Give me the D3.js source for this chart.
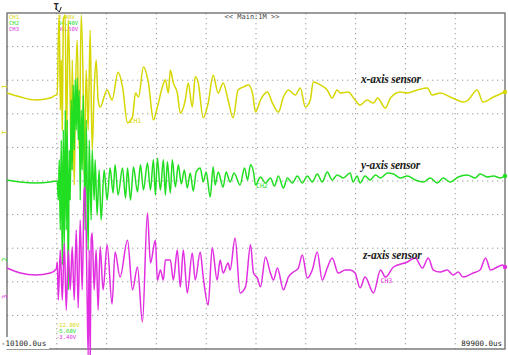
<!DOCTYPE html>
<html>
<head>
<meta charset="utf-8">
<script src="https://cdn.jsdelivr.net/npm/d3@7"></script>
<style>
  body { margin: 0; background: #fff; }
  svg { display: block; }
</style>
</head>
<body>
<svg id="scope" width="508" height="355"></svg>
<script>
// time in ms, amplitude in screen divisions
const timeRange = [-10.1, 89.9];
const divRange = [-5, 5];

const channelNames = ['CH1', 'CH2', 'CH3'];
const channelColors = ['#d6d600', '#22de22', '#e02ee0'];
const topReadouts = ['3.40V', '34.40V', '36.60V'];
const bottomReadouts = ['-12.00V', '-5.60V', '-3.40V'];
const sensorLabels = ['x-axis sensor', 'y-axis sensor', 'z-axis sensor'];
const timebaseLabel = '<< Main:1M >>';

const ch1 = [
  [-10.1, 2.62], [-7.4, 2.50], [-4.4, 2.41], [-1.4, 2.47], [-0.2, 2.56],
  [0.0, 2.56], [0.2, 4.20], [0.4, 4.94], [0.6, 2.11], [0.8, 3.60], [1.0, 1.52],
  [1.2, 4.79], [1.6, 4.94], [1.8, 1.22], [2.0, 2.71], [2.2, 4.79], [2.6, 2.41],
  [2.8, 0.33], [3.0, 3.60], [3.4, -0.12], [3.6, 2.11], [4.0, 4.20], [4.4, 0.92],
  [4.8, 4.94], [5.2, 2.71], [5.4, 0.18], [5.8, 3.30], [6.2, 1.52], [6.6, 4.49],
  [7.0, 0.92], [7.4, 2.71], [7.8, 3.60], [8.2, 2.41], [8.6, 2.20], [10.0, 2.71],
  [11.0, 2.41], [12.2, 3.24], [13.1, 2.80], [14.1, 1.73], [15.1, 1.90], [15.7, 2.62],
  [16.3, 2.50], [17.3, 3.39], [18.3, 2.92], [19.3, 1.82], [20.1, 2.20], [21.1, 2.80],
  [21.7, 3.01], [22.3, 2.62], [22.7, 3.30], [23.3, 2.92], [24.1, 2.62], [24.7, 2.02],
  [25.7, 2.41], [26.3, 2.92], [27.1, 2.20], [27.7, 3.10], [28.3, 2.92], [29.3, 1.88],
  [30.3, 2.32], [31.3, 3.15], [32.3, 2.62], [33.3, 2.92], [34.3, 2.41], [35.3, 1.88],
  [36.3, 2.71], [37.4, 2.80], [38.4, 2.86], [39.2, 2.62], [39.8, 2.05], [40.8, 2.41],
  [42.2, 2.65], [43.2, 2.32], [44.4, 2.05], [45.4, 2.50], [46.4, 2.71], [47.8, 2.56],
  [48.8, 2.77], [49.8, 2.20], [50.8, 2.41], [51.4, 2.95], [52.8, 2.86], [54.2, 2.71],
  [55.2, 2.47], [56.2, 2.71], [56.8, 2.62], [58.4, 2.65], [59.8, 2.41], [60.8, 2.26],
  [62.2, 2.41], [63.5, 2.32], [64.3, 2.47], [65.9, 2.17], [66.9, 2.47], [68.9, 2.65],
  [70.3, 2.62], [72.3, 2.71], [74.3, 2.77], [75.3, 2.56], [76.9, 2.62], [78.9, 2.50],
  [80.3, 2.41], [81.5, 2.35], [82.5, 2.41], [84.3, 2.71], [85.5, 2.35], [87.6, 2.50],
  [89.9, 2.65]
];

const ch2 = [
  [-10.1, 0.03], [-7.4, -0.03], [-4.4, -0.06], [-1.4, -0.03], [-0.2, 0.00],
  [0.0, 0.00], [0.2, -0.57], [0.4, 0.63], [0.6, -1.46], [0.8, 1.22], [1.0, -2.50],
  [1.2, 1.52], [1.4, -2.05], [1.6, 2.11], [1.8, -1.46], [2.0, 1.82], [2.2, -3.24],
  [2.4, 0.92], [2.6, -0.57], [2.8, 2.41], [3.0, 0.33], [3.2, 2.86], [3.4, 0.92],
  [3.6, 3.01], [3.8, 1.52], [4.0, 3.07], [4.2, 1.22], [4.4, 2.71], [4.6, -0.57],
  [4.8, 2.11], [5.0, 0.33], [5.2, 2.56], [5.6, -1.46], [5.8, 1.82], [6.2, -2.05],
  [6.4, 1.22], [6.8, -1.16], [7.0, 0.92], [7.4, -0.57], [7.6, 0.63], [8.0, -1.01],
  [8.4, 0.33], [8.8, -1.16], [9.4, 0.33], [10.0, -0.57], [10.6, 0.39], [11.2, -0.36],
  [11.6, 0.48], [12.2, -0.42], [13.1, 0.39], [13.7, -0.51], [14.1, 0.39], [14.7, -0.57],
  [15.3, 0.42], [16.1, -0.33], [16.7, 0.48], [17.3, -0.27], [18.1, 0.54], [18.7, -0.27],
  [19.3, 0.63], [19.7, -0.42], [20.1, 0.68], [20.7, -0.27], [21.3, 0.63], [21.7, -0.42],
  [22.1, 0.57], [22.7, -0.36], [23.1, 0.63], [23.7, -0.18], [24.3, 0.48], [24.9, -0.09],
  [25.5, 0.33], [26.1, -0.21], [26.7, 0.24], [27.3, -0.30], [27.9, 0.27], [28.7, 0.39],
  [29.3, -0.03], [29.9, 0.27], [30.7, -0.48], [31.3, 0.42], [31.7, -0.12], [32.3, 0.27],
  [33.3, -0.18], [33.9, 0.27], [34.7, -0.03], [35.5, 0.24], [36.7, -0.12], [37.6, 0.39],
  [38.2, 0.03], [38.8, 0.48], [39.4, 0.27], [39.8, -0.12], [40.8, 0.12], [41.8, -0.06],
  [42.8, 0.09], [43.6, -0.15], [44.4, 0.15], [45.4, -0.21], [46.2, 0.09], [47.2, -0.06],
  [48.2, 0.15], [49.2, -0.06], [50.2, 0.15], [51.2, -0.03], [52.2, 0.21], [53.2, -0.03],
  [54.2, 0.27], [55.2, 0.03], [56.2, 0.18], [57.4, 0.09], [58.8, 0.24], [59.4, -0.03],
  [60.2, 0.15], [60.8, -0.06], [61.8, 0.15], [62.8, 0.03], [63.9, 0.18], [64.9, 0.09],
  [66.3, 0.24], [67.5, 0.21], [68.9, 0.09], [70.3, 0.15], [71.9, 0.03], [73.5, -0.03],
  [74.9, 0.09], [76.3, -0.06], [77.5, 0.09], [78.9, -0.03], [80.5, 0.12], [82.3, 0.18],
  [83.9, 0.09], [84.9, 0.21], [86.3, 0.12], [87.6, 0.15], [89.0, 0.09], [89.9, 0.15]
];

const ch3 = [
  [-10.1, -2.59], [-7.4, -2.74], [-4.4, -2.80], [-1.4, -2.74], [-0.2, -2.62],
  [0.0, -2.41], [0.2, -3.54], [0.6, -2.05], [1.0, -3.54], [1.4, -1.85], [1.8, -3.84],
  [2.2, -2.05], [2.6, -3.24], [3.0, -1.96], [3.4, -3.54], [3.8, -1.46], [4.2, -3.78],
  [4.6, -1.16], [5.0, -3.24], [5.4, -0.27], [5.6, -0.18], [6.0, -3.54], [6.2, -5.18],
  [6.4, -2.05], [6.6, -5.33], [6.8, -1.76], [7.0, -1.55], [7.4, -3.24], [7.8, -2.05],
  [8.2, -3.84], [8.6, -1.96], [9.2, -3.24], [10.0, -1.90], [11.0, -3.66], [11.6, -2.11],
  [12.6, -2.86], [14.1, -1.76], [15.1, -3.24], [16.1, -2.56], [17.1, -4.20], [18.1, -0.95],
  [18.7, -2.44], [19.7, -1.76], [20.1, -2.95], [20.7, -2.65], [21.3, -2.95], [21.7, -2.35],
  [22.7, -2.35], [23.3, -2.95], [24.1, -2.05], [24.7, -3.15], [25.3, -2.05], [26.1, -3.33],
  [27.1, -2.14], [27.7, -2.95], [28.7, -2.11], [29.3, -2.86], [30.3, -3.69], [31.1, -1.99],
  [32.1, -2.95], [32.7, -2.35], [33.3, -2.74], [34.3, -2.44], [34.7, -2.65], [35.7, -1.70],
  [36.7, -3.33], [37.8, -3.15], [38.8, -1.90], [39.4, -2.74], [40.2, -2.89], [40.8, -3.15],
  [41.8, -2.26], [42.8, -2.74], [43.4, -2.95], [44.2, -2.59], [45.4, -3.24], [46.4, -2.86],
  [47.4, -2.71], [48.4, -2.59], [49.2, -2.20], [50.2, -2.89], [51.2, -2.65], [52.2, -2.11],
  [53.2, -2.95], [54.2, -2.59], [55.2, -2.29], [56.4, -2.74], [57.8, -2.65], [58.8, -2.65],
  [59.8, -2.74], [60.8, -3.18], [61.8, -2.86], [63.5, -3.33], [64.9, -2.65], [65.9, -2.86],
  [67.5, -2.56], [70.3, -2.41], [71.9, -2.29], [73.3, -2.59], [74.5, -2.29], [75.5, -2.65],
  [76.9, -2.71], [78.3, -2.65], [79.5, -2.80], [80.5, -2.71], [81.5, -2.86], [83.5, -2.74],
  [84.9, -2.65], [86.0, -2.29], [87.0, -2.65], [88.0, -2.59], [89.4, -2.50], [89.9, -2.56]
];

const traces = [ch1, ch2, ch3];

const svg = d3.select('#scope');
const plotLeft = 7, plotRight = 505, plotTop = 13, plotBottom = 349;

const x = d3.scaleLinear().domain(timeRange).range([plotLeft, plotRight]);
const y = d3.scaleLinear().domain(divRange).range([plotBottom, plotTop]);

// graticule
const xGrid = d3.range(1, 10).map(i => timeRange[0] + i * 10);
const yGrid = d3.range(divRange[0] + 1, divRange[1]);

svg.append('g')
  .selectAll('line')
  .data(xGrid)
  .join('line')
  .attr('x1', d => x(d)).attr('x2', d => x(d))
  .attr('y1', plotTop).attr('y2', plotBottom)
  .attr('stroke', '#9a9a9a')
  .attr('stroke-width', 1)
  .attr('stroke-dasharray', '1.3,3.7');

svg.append('g')
  .selectAll('line')
  .data(yGrid)
  .join('line')
  .attr('x1', plotLeft).attr('x2', plotRight)
  .attr('y1', d => y(d)).attr('y2', d => y(d))
  .attr('stroke', '#9a9a9a')
  .attr('stroke-width', 1)
  .attr('stroke-dasharray', '1.3,3.7');

svg.append('rect')
  .attr('x', plotLeft).attr('y', plotTop)
  .attr('width', plotRight - plotLeft).attr('height', plotBottom - plotTop)
  .attr('fill', 'none')
  .attr('stroke', '#5a5a5a')
  .attr('stroke-width', 1.2);

// readouts
const mono = '"DejaVu Sans Mono", monospace';

svg.append('g')
  .selectAll('text')
  .data(channelNames)
  .join('text')
  .attr('x', 9)
  .attr('y', (d, i) => 19 + i * 6)
  .attr('fill', (d, i) => channelColors[i])
  .attr('font-family', mono)
  .attr('font-size', 5.6)
  .text(d => d);

svg.append('g')
  .selectAll('text')
  .data(topReadouts)
  .join('text')
  .attr('x', 58)
  .attr('y', (d, i) => 19 + i * 6)
  .attr('fill', (d, i) => channelColors[i])
  .attr('font-family', mono)
  .attr('font-size', 5.6)
  .text(d => d);

svg.append('g')
  .selectAll('text')
  .data(bottomReadouts)
  .join('text')
  .attr('x', 56)
  .attr('y', (d, i) => 327 + i * 6)
  .attr('fill', (d, i) => channelColors[i])
  .attr('font-family', mono)
  .attr('font-size', 5.6)
  .text(d => d);

svg.append('text')
  .attr('x', (plotLeft + plotRight) / 2 - 4)
  .attr('y', 19)
  .attr('text-anchor', 'middle')
  .attr('fill', '#444')
  .attr('font-family', mono)
  .attr('font-size', 7)
  .text(timebaseLabel);

// traces
svg.append('clipPath').attr('id', 'clip')
  .append('rect').attr('x', 0).attr('y', plotTop).attr('width', 508).attr('height', 355 - plotTop);

const line = d3.line()
  .x(d => x(d[0]))
  .y(d => y(d[1]))
  .curve(d3.curveMonotoneX);

svg.append('g')
  .attr('clip-path', 'url(#clip)')
  .selectAll('path')
  .data(traces)
  .join('path')
  .attr('d', line)
  .attr('fill', 'none')
  .attr('stroke', (d, i) => channelColors[i])
  .attr('stroke-width', 1.5)
  .attr('stroke-linejoin', 'round');

// end dots on the right border
svg.append('g')
  .selectAll('circle')
  .data(traces)
  .join('circle')
  .attr('cx', plotRight)
  .attr('cy', d => y(d[d.length - 1][1]))
  .attr('r', 2.2)
  .attr('fill', (d, i) => channelColors[i]);

// time readouts at the bottom corners
const fmtTime = d => (d * 1000).toFixed(1) + 'us';
svg.append('rect')
  .attr('x', 1).attr('y', 337).attr('width', 48).attr('height', 12)
  .attr('fill', '#fff');
svg.append('text')
  .attr('x', 1).attr('y', 346)
  .attr('fill', '#222')
  .attr('font-family', mono)
  .attr('font-size', 7.5)
  .text(fmtTime(timeRange[0]));
svg.append('rect')
  .attr('x', 457).attr('y', 337).attr('width', 47).attr('height', 11)
  .attr('fill', '#fff');
svg.append('text')
  .attr('x', 502).attr('y', 346)
  .attr('text-anchor', 'end')
  .attr('fill', '#222')
  .attr('font-family', mono)
  .attr('font-size', 7.5)
  .text(fmtTime(timeRange[1]));

// trigger marker
svg.append('text')
  .attr('x', x(0) - 1).attr('y', 10)
  .attr('text-anchor', 'middle')
  .attr('fill', '#222')
  .attr('font-family', mono)
  .attr('font-size', 9)
  .attr('font-weight', 'bold')
  .text('T');
svg.append('path')
  .attr('d', `M${x(0) - 2},8 L${x(0) + 2},12 M${x(0) + 2},12 L${x(0) + 4},7`)
  .attr('stroke', '#222').attr('fill', 'none').attr('stroke-width', 1);

// left ground markers
const markerRows = [[2.80, 0], [1.45, 0], [-2.34, 1], [-3.45, 2]];
const markerText = ['1', 'T', '2', '3'];
svg.append('g')
  .selectAll('text')
  .data(markerRows)
  .join('text')
  .attr('transform', d => `translate(7,${y(d[0])}) rotate(-90)`)
  .attr('text-anchor', 'middle')
  .attr('fill', d => channelColors[d[1]])
  .attr('font-family', mono)
  .attr('font-size', 7)
  .text((d, i) => markerText[i]);

// channel tags near traces
const tagPos = [[14.5, 1.72], [39.9, -0.2], [64.9, -3.05]];
svg.append('g')
  .selectAll('text')
  .data(tagPos)
  .join('text')
  .attr('x', d => x(d[0]))
  .attr('y', d => y(d[1]))
  .attr('fill', (d, i) => channelColors[i])
  .attr('font-family', mono)
  .attr('font-size', 6.5)
  .text((d, i) => channelNames[i]);

// sensor labels
const labelPos = [[61.0, 2.92], [61.0, 0.36], [61.4, -2.32]];
svg.append('g')
  .selectAll('text')
  .data(sensorLabels)
  .join('text')
  .attr('x', (d, i) => x(labelPos[i][0]))
  .attr('y', (d, i) => y(labelPos[i][1]))
  .attr('fill', '#1a1a1a')
  .attr('font-family', '"Liberation Serif", serif')
  .attr('font-style', 'italic')
  .attr('font-weight', 'bold')
  .attr('font-size', 11.5)
  .attr('letter-spacing', -0.2)
  .text(d => d);
</script>
</body>
</html>
